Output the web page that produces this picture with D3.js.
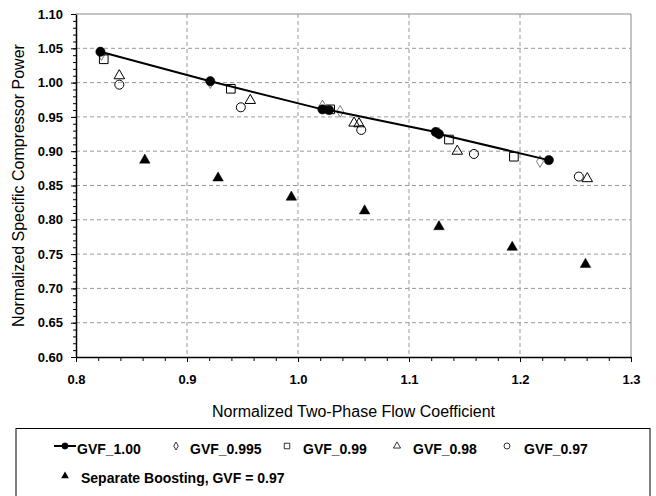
<!DOCTYPE html>
<html><head><meta charset="utf-8">
<script src="https://cdn.jsdelivr.net/npm/d3@7"></script>
<style>body{margin:0;background:#fff}svg{display:block;font-family:"Liberation Sans",Arial,sans-serif}</style>
</head><body><svg id="c" width="656" height="496"></svg>
<script>
const gvf100X = [0.822, 0.921, 1.022, 1.028, 1.124, 1.127, 1.226];
const gvf100Y = [1.045, 1.002, 0.961, 0.960, 0.928, 0.925, 0.887];
const gvf0995X = [0.823, 0.921, 1.022, 1.038, 1.127, 1.218];
const gvf0995Y = [1.041, 1.000, 0.966, 0.958, 0.926, 0.885];
const gvf099X = [0.825, 0.9395, 1.029, 1.136, 1.1945];
const gvf099Y = [1.034, 0.991, 0.961, 0.917, 0.892];
const gvf098X = [0.839, 0.957, 1.0505, 1.055, 1.1435, 1.2606];
const gvf098Y = [1.010, 0.974, 0.941, 0.940, 0.900, 0.860];
const gvf097X = [0.839, 0.9485, 1.057, 1.1585, 1.253];
const gvf097Y = [0.997, 0.964, 0.931, 0.896, 0.863];
const sepX = [0.862, 0.928, 0.994, 1.060, 1.127, 1.193, 1.259];
const sepY = [0.887, 0.861, 0.833, 0.813, 0.790, 0.760, 0.735];
const xTicks = [0.8, 0.9, 1.0, 1.1, 1.2, 1.3];
const yTicks = [0.60, 0.65, 0.70, 0.75, 0.80, 0.85, 0.90, 0.95, 1.00, 1.05, 1.10];
const legendNames = ["GVF_1.00", "GVF_0.995", "GVF_0.99", "GVF_0.98", "GVF_0.97", "Separate Boosting, GVF = 0.97"];
const xTitle = "Normalized Two-Phase Flow Coefficient";
const yTitle = "Normalized Specific Compressor Power";

const svg = d3.select("#c");
const L = 76, R = 631, T = 14, B = 357;
const x = d3.scaleLinear().domain([0.8, 1.3]).range([L, R]);
const y = d3.scaleLinear().domain([0.6, 1.1]).range([B, T]);

// grid
const g = svg.append("g");
g.selectAll(".gx").data(xTicks.slice(1, -1)).enter().append("line")
  .attr("x1", d => x(d)).attr("x2", d => x(d)).attr("y1", T).attr("y2", B)
  .attr("stroke", "#999").attr("stroke-dasharray", "4,3").attr("stroke-width", 1);
g.selectAll(".gy").data(yTicks.slice(1, -1)).enter().append("line")
  .attr("y1", d => y(d)).attr("y2", d => y(d)).attr("x1", L).attr("x2", R)
  .attr("stroke", "#999").attr("stroke-dasharray", "4,3").attr("stroke-width", 1);
// frame top/right
svg.append("line").attr("x1", L).attr("x2", R).attr("y1", T).attr("y2", T).attr("stroke", "#888");
svg.append("line").attr("x1", R).attr("x2", R).attr("y1", T).attr("y2", B).attr("stroke", "#888");

// minor ticks
const xMinor = d3.range(0, 26).map(i => 0.8 + i * 0.02);
const yMinor = d3.range(0, 51).map(i => 0.6 + i * 0.01);
svg.append("g").attr("transform", `translate(0,${B})`)
  .call(d3.axisBottom(x).tickValues(xMinor).tickSize(4).tickFormat(""))
  .call(a => a.select(".domain").remove());
svg.append("g").attr("transform", `translate(${L},0)`)
  .call(d3.axisLeft(y).tickValues(yMinor).tickSize(3).tickFormat(""))
  .call(a => a.select(".domain").remove());
// major axes
const xa = svg.append("g").attr("transform", `translate(0,${B})`)
  .call(d3.axisBottom(x).tickValues(xTicks).tickSize(5).tickSizeOuter(0).tickPadding(13).tickFormat(d3.format(".1f")));
const ya = svg.append("g").attr("transform", `translate(${L},0)`)
  .call(d3.axisLeft(y).tickValues(yTicks).tickSize(5).tickSizeOuter(0).tickPadding(8).tickFormat(d3.format(".2f")));
[xa, ya].forEach(a => {
  a.selectAll("text").attr("font-size", 13).attr("font-weight", "bold").attr("fill", "#000")
    .attr("font-family", "'Liberation Sans',Arial,sans-serif");
  a.select(".domain").attr("stroke", "#000").attr("stroke-width", 1.5);
});

// titles
svg.append("text").attr("x", (L + R) / 2).attr("y", 417).attr("text-anchor", "middle")
  .attr("font-size", 16).text(xTitle);
svg.append("text").attr("transform", `translate(24,${(T + B) / 2}) rotate(-90)`)
  .attr("text-anchor", "middle").attr("font-size", 16).text(yTitle);

// series
const plot = svg.append("g");
const zip = (xs, ys) => xs.map((v, i) => [v, ys[i]]);
function marks(data, type, size, fill) {
  plot.append("g").selectAll("path").data(data).enter().append("path")
    .attr("transform", d => `translate(${x(d[0])},${y(d[1])})`)
    .attr("d", d3.symbol().type(type).size(size))
    .attr("fill", fill).attr("stroke", "#000").attr("stroke-width", fill === "none" ? 1 : 0.5);
}
marks(zip(gvf0995X, gvf0995Y), d3.symbolDiamond, 40, "#fff");
marks(zip(gvf099X, gvf099Y), d3.symbolSquare, 75, "none");
marks(zip(gvf098X, gvf098Y), d3.symbolTriangle, 48, "none");
marks(zip(gvf097X, gvf097Y), d3.symbolCircle, 64, "none");
marks(zip(sepX, sepY), d3.symbolTriangle, 48, "#000");
plot.append("path").datum(zip(gvf100X, gvf100Y))
  .attr("d", d3.line().x(d => x(d[0])).y(d => y(d[1])))
  .attr("fill", "none").attr("stroke", "#000").attr("stroke-width", 2);
marks(zip(gvf100X, gvf100Y), d3.symbolCircle, 68, "#000");

// legend
const lg = svg.append("g");
lg.append("rect").attr("x", 16).attr("y", 428.5).attr("width", 634).attr("height", 90)
  .attr("fill", "#fff").attr("stroke", "#000").attr("stroke-width", 1);
const row1 = 449, row2 = 478;
const items = [
  {sx: 65, tx: 77, type: d3.symbolCircle, size: 30, fill: "#000", line: true},
  {sx: 176, tx: 190, type: d3.symbolDiamond, size: 18, fill: "none"},
  {sx: 287, tx: 303, type: d3.symbolSquare, size: 30, fill: "none"},
  {sx: 397, tx: 413, type: d3.symbolTriangle, size: 22, fill: "none"},
  {sx: 507, tx: 524, type: d3.symbolCircle, size: 28, fill: "none"}
];
items.forEach((it, i) => {
  if (it.line) lg.append("line").attr("x1", 54).attr("x2", 76).attr("y1", row1 - 3).attr("y2", row1 - 3)
    .attr("stroke", "#000").attr("stroke-width", 2);
  lg.append("path").attr("transform", `translate(${it.sx},${row1 - 3})`)
    .attr("d", d3.symbol().type(it.type).size(it.size))
    .attr("fill", it.fill).attr("stroke", "#000").attr("stroke-width", 0.8);
  lg.append("text").attr("x", it.tx).attr("y", row1 + 5).attr("font-size", 14).attr("font-weight", "bold")
    .text(legendNames[i]);
});
lg.append("path").attr("transform", `translate(65,${row2 - 2})`)
  .attr("d", d3.symbol().type(d3.symbolTriangle).size(26)).attr("fill", "#000");
lg.append("text").attr("x", 81).attr("y", row2 + 5).attr("font-size", 14).attr("font-weight", "bold")
  .text(legendNames[5]);
</script></body></html>
